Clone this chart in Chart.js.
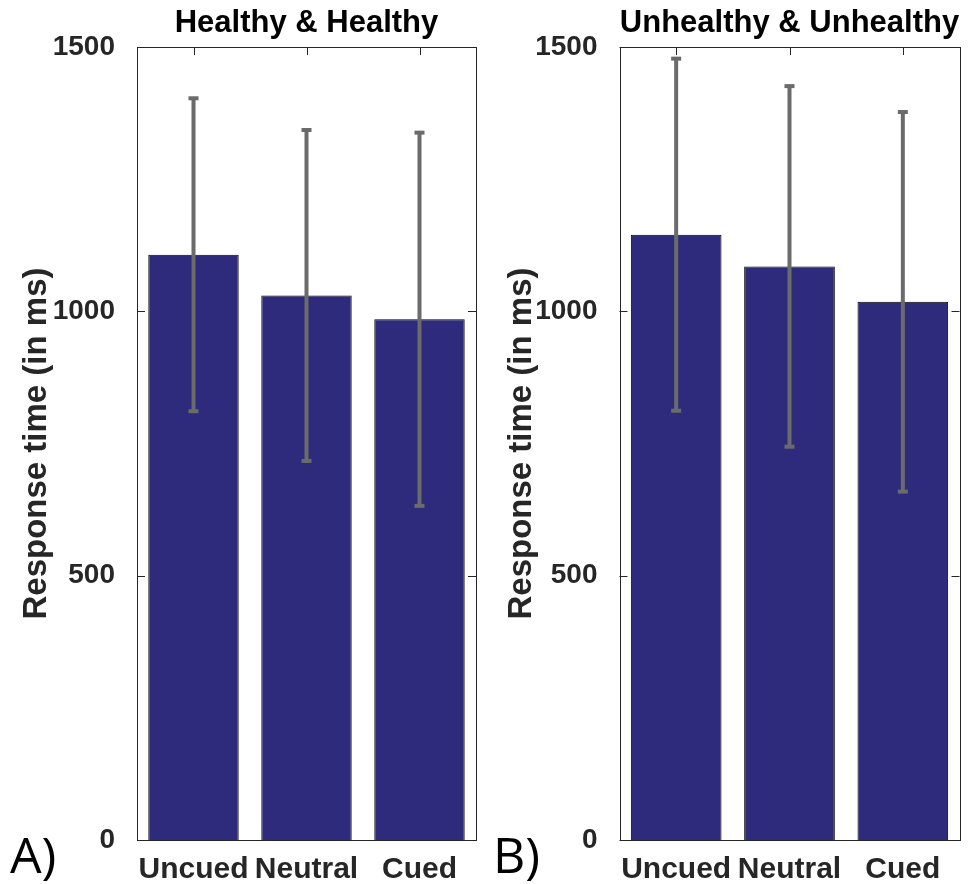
<!DOCTYPE html>
<html>
<head>
<meta charset="utf-8">
<script src="https://cdn.jsdelivr.net/npm/chart.js@4.4.1/dist/chart.umd.min.js"></script>
<style>
  body { margin: 0; background: #fff; width: 971px; height: 884px; position: relative; overflow: hidden; }
  canvas { position: absolute; top: 0; }
  #chartA { left: 0; }
  #chartB { left: 485px; }
</style>
</head>
<body>
<canvas id="chartA" width="485" height="884"></canvas>
<canvas id="chartB" width="486" height="884"></canvas>
<script>
// DATA
const conditions = ["Uncued", "Neutral", "Cued"];
const healthyMeans = [1107, 1030, 985];
const healthySD = [296, 313, 353];
const unhealthyMeans = [1145, 1085, 1018];
const unhealthySD = [333, 341, 359];
const yTicks = [0, 500, 1000, 1500];

const FONT = "'Liberation Sans', Arial, sans-serif";

// error bars (mean +/- sd) on top of the bars
const errorBars = {
	id: "errorBars",
	afterDatasetsDraw(chart) {
		const { ctx } = chart;
		const y = chart.scales.y;
		const ds = chart.data.datasets[0];
		ctx.save();
		ctx.strokeStyle = "#6b6b6b";
		ctx.fillStyle = "#6b6b6b";
		ctx.lineWidth = 4;
		chart.getDatasetMeta(0).data.forEach((bar, i) => {
			const top = y.getPixelForValue(ds.data[i] + ds.sd[i]);
			const bot = y.getPixelForValue(ds.data[i] - ds.sd[i]);
			ctx.beginPath();
			ctx.moveTo(bar.x, top);
			ctx.lineTo(bar.x, bot);
			ctx.stroke();
			ctx.fillRect(bar.x - 5, top - 2, 10, 4);
			ctx.fillRect(bar.x - 5, bot - 2, 10, 4);
		});
		ctx.restore();
	},
};

// matlab style box with inward ticks + panel letter
const frame = {
	id: "frame",
	afterDraw(chart) {
		const { ctx, chartArea } = chart;
		const { left, right, top, bottom } = chartArea;
		const { x, y } = chart.scales;
		ctx.save();
		ctx.strokeStyle = "#262626";
		ctx.lineWidth = 1;
		ctx.strokeRect(Math.round(left) + 0.5, Math.round(top) + 0.5, Math.round(right - left), Math.round(bottom - top));
		ctx.beginPath();
		y.ticks.forEach((t) => {
			const py = Math.round(y.getPixelForValue(t.value)) + 0.5;
			ctx.moveTo(left, py);
			ctx.lineTo(left + 8, py);
			ctx.moveTo(right, py);
			ctx.lineTo(right - 8, py);
		});
		x.ticks.forEach((t, i) => {
			const px = Math.round(x.getPixelForTick(i)) + 0.5;
			ctx.moveTo(px, top);
			ctx.lineTo(px, top + 8);
		});
		ctx.stroke();
		ctx.fillStyle = "#000";
		ctx.font = "50px 'Open Sans', sans-serif";
		ctx.textBaseline = "alphabetic";
		ctx.fillText(chart.config.options.tag, chart.config.options.tagX, 873);
		ctx.restore();
	},
};

const makeChart = (id, title, means, sd, tag, tagX, yWidth, padRight) => {
	const ctx = document.getElementById(id).getContext("2d");
	return new Chart(ctx, {
		type: "bar",
		data: {
			labels: conditions,
			datasets: [
				{
					data: means,
					sd: sd,
					backgroundColor: "#2E2A7C",
					borderColor: "#000",
					borderWidth: 1,
					categoryPercentage: 0.8,
					barPercentage: 1,
				},
			],
		},
		options: {
			responsive: false,
			animation: false,
			devicePixelRatio: 1,
			tag: tag,
			tagX: tagX,
			layout: { padding: { left: 0, right: padRight, top: 0, bottom: 0 } },
			plugins: {
				legend: { display: false },
				tooltip: { enabled: false },
				title: {
					display: true,
					text: title,
					fullSize: false,
					color: "#000",
					font: { family: FONT, size: 31, weight: "bold" },
					padding: { top: 4.4, bottom: 5.4 },
				},
			},
			scales: {
				x: {
					grid: { display: false },
					border: { display: false },
					ticks: {
						color: "#262626",
						font: { family: FONT, size: 30, weight: "bold" },
						padding: 4,
						maxRotation: 0,
						autoSkip: false,
					},
					afterFit(s) {
						s.height = 44;
					},
				},
				y: {
					min: 0,
					max: 1500,
					afterBuildTicks(s) {
						s.ticks = yTicks.map((v) => ({ value: v }));
					},
					grid: { display: false },
					border: { display: false },
					ticks: {
						color: "#262626",
						font: { family: FONT, size: 28, weight: "bold" },
						padding: 14,
						callback: (v) => String(v),
					},
					title: {
						display: true,
						text: "Response time (in ms)",
						color: "#262626",
						font: { family: FONT, size: 33, weight: "bold" },
						padding: { top: 17, bottom: 0 },
					},
					afterFit(s) {
						s.width = yWidth;
					},
				},
			},
		},
		plugins: [errorBars, frame],
	});
};

makeChart("chartA", "Healthy & Healthy", healthyMeans, healthySD, "A)", 10, 137, 9);
makeChart("chartB", "Unhealthy & Unhealthy", unhealthyMeans, unhealthySD, "B)", 8, 134.5, 11.5);
</script>
</body>
</html>
